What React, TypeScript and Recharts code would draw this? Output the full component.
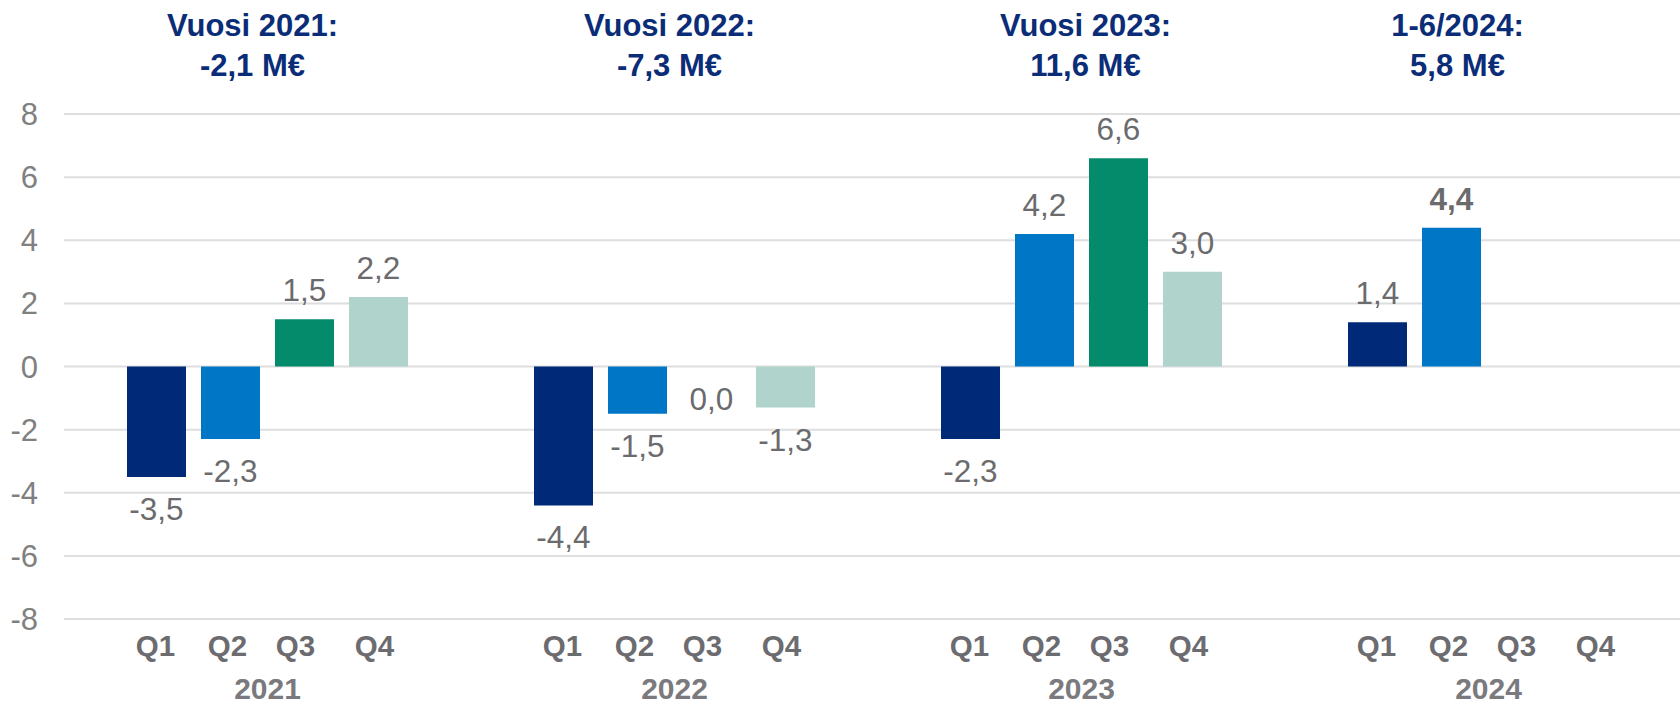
import { BarChart, Bar, XAxis, YAxis, CartesianGrid, LabelList, Cell } from "recharts";

const years = ["2021", "2022", "2023", "2024"];
const quarters = ["Q1", "Q2", "Q3", "Q4"];
const q1 = [-3.5, -4.4, -2.3, 1.4];
const q2 = [-2.3, -1.5, 4.2, 4.4];
const q3 = [1.5, 0.0, 6.6, null];
const q4 = [2.2, -1.3, 3.0, null];
const titleLine1 = ["Vuosi 2021:", "Vuosi 2022:", "Vuosi 2023:", "1-6/2024:"];
const titleLine2 = ["-2,1 M€", "-7,3 M€", "11,6 M€", "5,8 M€"];
const boldLabels = ["2024-Q2"];
const yTicks = [-8, -6, -4, -2, 0, 2, 4, 6, 8];

const colors = ["#002a78", "#0076c6", "#038b6b", "#b0d3cc"];
const font = "'Liberation Sans', Arial, sans-serif";
const titleOffsets = [-15, -5, 4, -31];
const quarterOffsets = [-112, -40, 28, 107];

const series = [q1, q2, q3, q4];
const data = years.map((y, i) => ({ year: y, Q1: q1[i], Q2: q2[i], Q3: q3[i], Q4: q4[i] }));

const fmt = (v: number) => v.toFixed(1).replace(".", ",");

function makeLabel(key: string) {
  return (p: any) => {
    const { x, y, width, height, value, index } = p;
    if (value === null || value === undefined) return null;
    const top = Math.min(y, y + height);
    const bottom = Math.max(y, y + height);
    const ty = value > 0 ? top - 18 : bottom + 43;
    const bold = boldLabels.includes(`${years[index]}-${key}`);
    return (
      <text x={x + width / 2} y={ty} textAnchor="middle" fontFamily={font} fontSize={31.5}
        fontWeight={bold ? "bold" : "normal"} fill="#6b6b6e">
        {fmt(value)}
      </text>
    );
  };
}

function CategoryTick(p: any) {
  const { x, payload } = p;
  const i = payload.index;
  return (
    <g fontFamily={font} fontWeight="bold">
      <text x={x + titleOffsets[i]} y={36} textAnchor="middle" fontSize={31} fill="#0b2d78">{titleLine1[i]}</text>
      <text x={x + titleOffsets[i]} y={76} textAnchor="middle" fontSize={31} fill="#0b2d78">{titleLine2[i]}</text>
      {quarters.map((q, k) => (
        <text key={q} x={x + quarterOffsets[k]} y={656} textAnchor="middle" fontSize={29.5} fill="#6c6c70">{q}</text>
      ))}
      <text x={x} y={699} textAnchor="middle" fontSize={30} fill="#7a7a7e">{payload.value}</text>
    </g>
  );
}

export default function App() {
  return (
    <div style={{ position: "absolute", left: 0, top: 0, width: 1680, height: 706, overflow: "hidden", background: "#fff" }}>
      <BarChart width={1700} height={706} data={data} barSize={59} barGap={15}
        margin={{ top: 114, right: 8, bottom: 0, left: 0 }}>
        <CartesianGrid vertical={false} stroke="#dedede" strokeWidth={2} />
        <XAxis dataKey="year" height={87} axisLine={false} tickLine={false} tick={<CategoryTick />} interval={0} />
        <YAxis width={64} domain={[-8, 8]} ticks={yTicks} axisLine={false} tickLine={false} tickSize={0}
          tickMargin={26} tick={{ fontSize: 31, fill: "#808080", fontFamily: font }} />
        {quarters.map((q, k) => (
          <Bar key={q} dataKey={q} fill={colors[k]} isAnimationActive={false}
            minPointSize={(v: any) => (v === 0 ? 1 : 0)}>
            {series[k].map((v, i) => (
              <Cell key={i} fill={v === 0 ? "transparent" : colors[k]} />
            ))}
            <LabelList dataKey={q} content={makeLabel(q)} />
          </Bar>
        ))}
      </BarChart>
    </div>
  );
}
